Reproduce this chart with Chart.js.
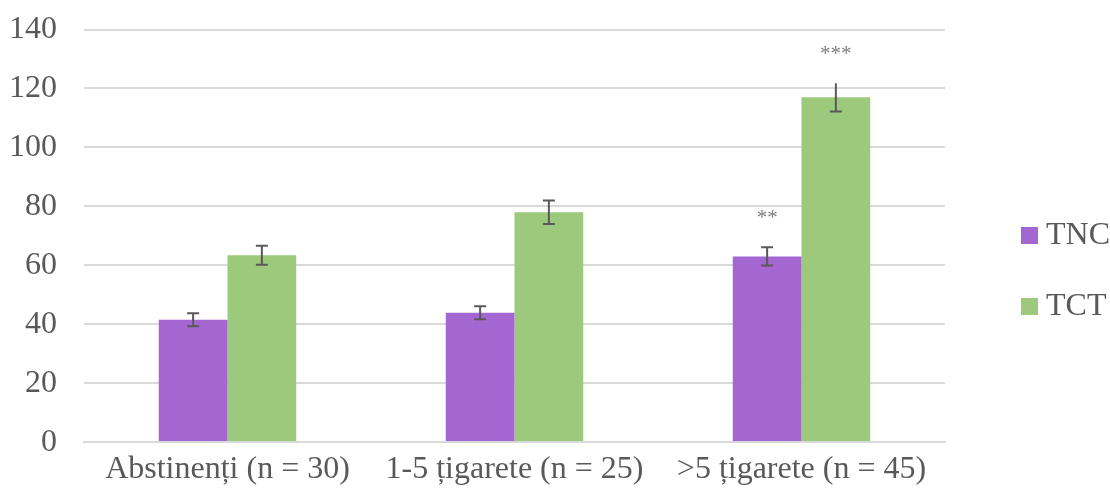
<!DOCTYPE html>
<html>
<head>
<meta charset="utf-8">
<script src="https://cdn.jsdelivr.net/npm/chart.js@4"></script>
<style>
  html, body { margin: 0; padding: 0; background: #ffffff; }
  #wrap { width: 1110px; height: 495px; }
</style>
</head>
<body>
<div id="wrap"><canvas id="barChart"></canvas></div>
<script>
const categories = ["Abstinenți (n = 30)", "1-5 țigarete (n = 25)", ">5 țigarete (n = 45)"];
const seriesNames = ["TNC", "TCT"];
const tncValues = [41.5, 43.9, 63.0];
const tctValues = [63.4, 78.0, 117.0];
const tncErrors = [2.2, 2.2, 3.1];
const tctErrors = [3.2, 4.0, 4.8];
const tncMarks = ["", "", "**"];
const tctMarks = ["", "", "***"];
const yTicks = [0, 20, 40, 60, 80, 100, 120, 140];

const colors = { TNC: "#A467D1", TCT: "#9CC97C" };
const textColor = "#595959";
const serif = "'Liberation Serif', 'Times New Roman', serif";

// barras de error + asteriscos
const errorBarPlugin = {
  id: "errorBars",
  afterDatasetsDraw(chart) {
    const ctx = chart.ctx;
    const y = chart.scales.y;
    chart.data.datasets.forEach((ds, di) => {
      const meta = chart.getDatasetMeta(di);
      meta.data.forEach((bar, i) => {
        const v = ds.data[i];
        const e = ds.errors[i];
        const top = y.getPixelForValue(v + e);
        const bot = y.getPixelForValue(v - e);
        ctx.save();
        ctx.strokeStyle = "#595959";
        ctx.lineWidth = 2;
        ctx.beginPath();
        ctx.moveTo(bar.x, top);
        ctx.lineTo(bar.x, bot);
        if (!ds.openTop[i]) {
          ctx.moveTo(bar.x - 6, top);
          ctx.lineTo(bar.x + 6, top);
        }
        ctx.moveTo(bar.x - 6, bot);
        ctx.lineTo(bar.x + 6, bot);
        ctx.stroke();
        if (ds.marks[i]) {
          ctx.fillStyle = "#7F7F7F";
          ctx.font = "21px " + serif;
          ctx.textAlign = "center";
          ctx.textBaseline = "middle";
          ctx.fillText(ds.marks[i], bar.x, top - 29);
        }
        ctx.restore();
      });
    });
  },
};

// leyenda a la derecha
const sideLegendPlugin = {
  id: "sideLegend",
  afterDraw(chart) {
    const ctx = chart.ctx;
    const rows = [235, 306];
    chart.data.datasets.forEach((ds, di) => {
      const cy = rows[di];
      ctx.save();
      ctx.fillStyle = ds.backgroundColor;
      ctx.fillRect(1021, cy - 8, 17, 17);
      ctx.fillStyle = textColor;
      ctx.font = "32px " + serif;
      ctx.textAlign = "left";
      ctx.textBaseline = "middle";
      ctx.fillText(ds.label, 1046, cy + 1);
      ctx.restore();
    });
  },
};

new Chart(document.getElementById("barChart"), {
  type: "bar",
  data: {
    labels: categories,
    datasets: [
      {
        label: seriesNames[0],
        data: tncValues,
        errors: tncErrors,
        marks: tncMarks,
        openTop: [false, false, false],
        backgroundColor: colors.TNC,
      },
      {
        label: seriesNames[1],
        data: tctValues,
        errors: tctErrors,
        marks: tctMarks,
        openTop: [false, false, true],
        backgroundColor: colors.TCT,
      },
    ],
  },
  options: {
    responsive: true,
    maintainAspectRatio: false,
    animation: false,
    layout: { padding: { left: 10, right: 165, top: 29.5, bottom: -1.5 } },
    datasets: {
      bar: { categoryPercentage: 0.479, barPercentage: 1.0 },
    },
    plugins: {
      legend: { display: false },
      tooltip: { enabled: false },
    },
    scales: {
      y: {
        min: 0,
        max: 140,
        afterBuildTicks: (scale) => {
          scale.ticks = yTicks.map((v) => ({ value: v }));
        },
        afterFit: (scale) => {
          scale.paddingTop = 0;
          scale.paddingBottom = 0;
          scale.width = 74;
        },
        border: { display: false },
        grid: { color: "#D9D9D9", lineWidth: 2, drawTicks: false },
        ticks: {
          color: textColor,
          padding: 27,
          font: { family: serif, size: 32 },
        },
      },
      x: {
        afterFit: (scale) => {
          scale.paddingLeft = 0;
          scale.paddingRight = 0;
        },
        border: { color: "#D9D9D9", width: 2 },
        grid: { display: false, drawTicks: false },
        ticks: {
          color: textColor,
          padding: 8,
          maxRotation: 0,
          font: { family: serif, size: 32 },
        },
      },
    },
  },
  plugins: [errorBarPlugin, sideLegendPlugin],
});
</script>
</body>
</html>
